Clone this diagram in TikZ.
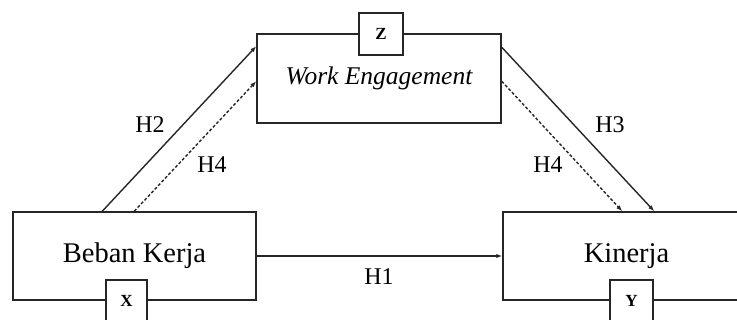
\documentclass[tikz,border=0pt]{standalone}
\usepackage{fontspec}
\setmainfont{Liberation Serif}
\usetikzlibrary{arrows.meta}
\tikzset{
  bigbox/.style={draw=black!85, line width=1.5pt, fill=white, inner sep=0pt, font=\fontsize{28.5}{31}\selectfont},
  tagbox/.style={draw=black!85, line width=1.5pt, fill=white, inner sep=0pt, font=\fontsize{17}{19}\selectfont\bfseries},
  conn/.style={draw=black!85, line width=1.4pt, -{Latex[length=6pt,width=4.5pt]}},
  dconn/.style={conn, dash pattern=on 3pt off 2pt},
  hlab/.style={font=\fontsize{24}{26}\selectfont}
}
\begin{document}
\begin{tikzpicture}[x=1pt,y=-1pt]
\useasboundingbox (0,0) rectangle (737,320);
\node[bigbox, minimum width=243pt, minimum height=88pt] (bk) at (134.5,256) {Beban Kerja};
\node[bigbox, minimum width=247pt, minimum height=88pt] (kin) at (626.5,256) {Kinerja};
\node[bigbox, minimum width=244pt, minimum height=89pt, font=\fontsize{25.5}{28}\selectfont\itshape] (we) at (379,78.5) {Work Engagement};
\node[tagbox, minimum width=44pt, minimum height=42pt] (z) at (381,34) {Z};
\node[tagbox, minimum width=41pt, minimum height=42pt] (x) at (126.5,301) {X};
\node[tagbox, minimum width=43pt, minimum height=42pt] (y) at (631.5,301) {Y};

\draw[conn] ([xshift=90pt]bk.north west) -- ([yshift=-13pt]we.north west);
\draw[dconn] ([xshift=122pt]bk.north west) -- ([yshift=-48pt]we.north west);
\draw[conn] ([yshift=-14pt]we.north east) -- ([xshift=152pt]kin.north west);
\draw[dconn] ([yshift=-48pt]we.north east) -- ([xshift=120pt]kin.north west);
\draw[conn] (bk.east) -- (kin.west);

\node[hlab] (h2) at (150,125) {H2};
\node[hlab] (h4a) at (212,165) {H4};
\node[hlab] (h3) at (610,125) {H3};
\node[hlab] (h4b) at (548,165) {H4};
\node[hlab] (h1) at (379,277) {H1};
\end{tikzpicture}
\end{document}
